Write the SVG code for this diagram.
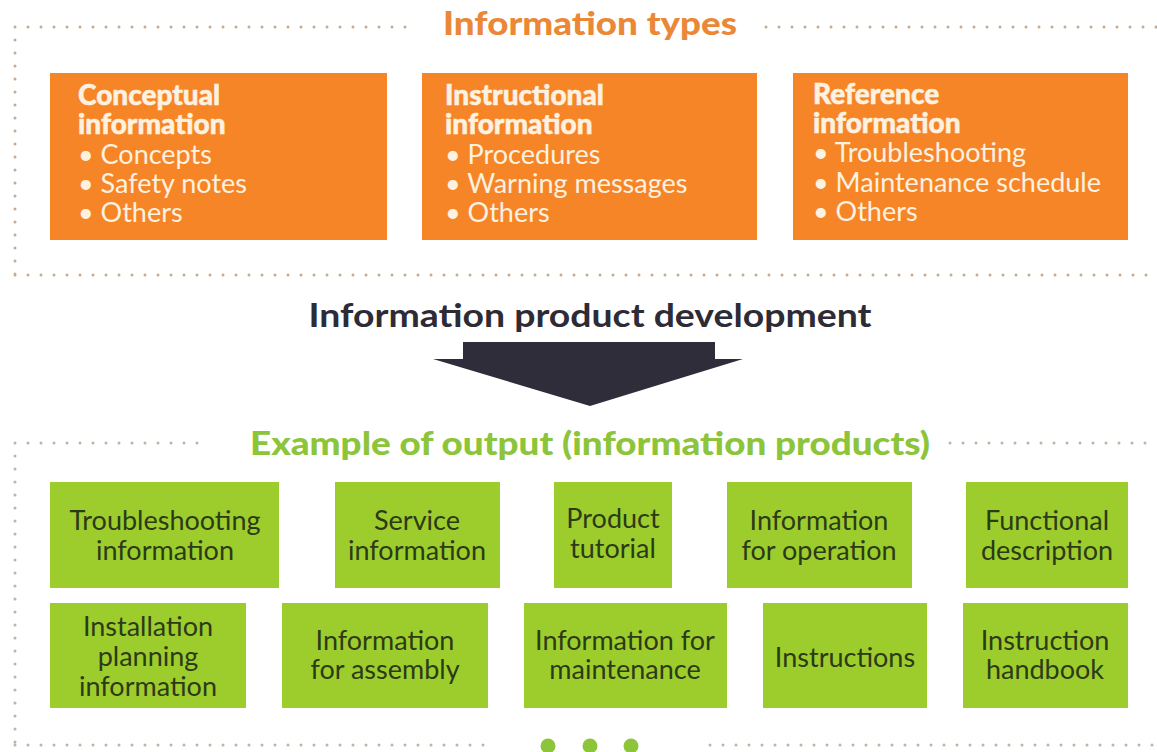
<svg xmlns="http://www.w3.org/2000/svg" width="1157" height="752" viewBox="0 0 1157 752">
<style>
.dotT{fill:none;stroke:#c4ab92;stroke-width:3;stroke-linecap:round;stroke-dasharray:0 13}
.dotB{fill:none;stroke:#b3baa6;stroke-width:3;stroke-linecap:round;stroke-dasharray:0 13}
.ob{fill:#f68527}
.gb{fill:#9ccd2c}
.oh{font-family:Lato,"Liberation Sans",sans-serif;font-weight:900;font-size:28px;fill:#fdf1e0;stroke:#fdf1e0;stroke-width:0.5}
.ot{font-family:Lato,"Liberation Sans",sans-serif;font-size:27px;fill:#fdf1e0}
.gt{font-family:Lato,"Liberation Sans",sans-serif;font-size:27px;fill:#2c3a17;text-anchor:middle}
.title{font-family:Lato,"Liberation Sans",sans-serif;font-weight:900;font-size:32px;text-anchor:middle}
</style>
<rect width="1157" height="752" fill="#ffffff"/>
<g id="frame-top">
<path class="dotT" d="M15 27 H416 M766 27 H1157 M15 27 V275 M15 275 H1157"/>
<text class="title" x="590" y="35" fill="#ea8838" textLength="294" lengthAdjust="spacingAndGlyphs">Information types</text>
</g>
<g id="frame-bottom">
<path class="dotB" d="M15 443 H210 M950 443 H1157 M15 443 V745 M15 745 H495 M710 745 H1157"/>
<text class="title" x="590" y="455" fill="#8cc43a" textLength="680" lengthAdjust="spacingAndGlyphs">Example of output (information products)</text>
<circle cx="548" cy="746" r="7.5" fill="#8cc43a"/>
<circle cx="590" cy="746" r="7.5" fill="#8cc43a"/>
<circle cx="631" cy="746" r="7.5" fill="#8cc43a"/>
</g>
<g id="conceptual">
<rect class="ob" x="50" y="73" width="337" height="167"/>
<text class="oh" x="78" y="105">Conceptual</text>
<text class="oh" x="78" y="134">information</text>
<text class="ot" x="78" y="164">• Concepts</text>
<text class="ot" x="78" y="193">• Safety notes</text>
<text class="ot" x="78" y="222">• Others</text>
</g>
<g id="instructional">
<rect class="ob" x="422" y="73" width="335" height="167"/>
<text class="oh" x="445" y="105">Instructional</text>
<text class="oh" x="445" y="134">information</text>
<text class="ot" x="445" y="164">• Procedures</text>
<text class="ot" x="445" y="193">• Warning messages</text>
<text class="ot" x="445" y="222">• Others</text>
</g>
<g id="reference">
<rect class="ob" x="793" y="73" width="335" height="167"/>
<text class="oh" x="813" y="104">Reference</text>
<text class="oh" x="813" y="133">information</text>
<text class="ot" x="813" y="162">• Troubleshooting</text>
<text class="ot" x="813" y="192">• Maintenance schedule</text>
<text class="ot" x="813" y="221">• Others</text>
</g>
<g id="development">
<text class="title" x="590" y="327" fill="#2d2b35" font-size="35" textLength="563" lengthAdjust="spacingAndGlyphs" style="font-weight:bold">Information product development</text>
</g>
<g id="connectors">
<path d="M463 342 H715 V359 H743 L590 406 L433 359 H463 Z" fill="#2f2d3a"/>
</g>
<g id="troubleshooting-info">
<rect class="gb" x="50" y="482" width="229" height="106"/>
<text class="gt" x="165" y="530">Troubleshooting</text>
<text class="gt" x="165" y="560">information</text>
</g>
<g id="service-info">
<rect class="gb" x="335" y="482" width="165" height="106"/>
<text class="gt" x="417" y="530">Service</text>
<text class="gt" x="417" y="560">information</text>
</g>
<g id="product-tutorial">
<rect class="gb" x="554" y="482" width="118" height="106"/>
<text class="gt" x="613" y="528">Product</text>
<text class="gt" x="613" y="558">tutorial</text>
</g>
<g id="info-operation">
<rect class="gb" x="727" y="482" width="185" height="106"/>
<text class="gt" x="819" y="530">Information</text>
<text class="gt" x="819" y="560">for operation</text>
</g>
<g id="functional-description">
<rect class="gb" x="966" y="482" width="162" height="106"/>
<text class="gt" x="1047" y="530">Functional</text>
<text class="gt" x="1047" y="560">description</text>
</g>
<g id="installation-planning">
<rect class="gb" x="50" y="603" width="196" height="105"/>
<text class="gt" x="148" y="636">Installation</text>
<text class="gt" x="148" y="666">planning</text>
<text class="gt" x="148" y="696">information</text>
</g>
<g id="info-assembly">
<rect class="gb" x="282" y="603" width="206" height="105"/>
<text class="gt" x="385" y="650">Information</text>
<text class="gt" x="385" y="679">for assembly</text>
</g>
<g id="info-maintenance">
<rect class="gb" x="524" y="603" width="203" height="105"/>
<text class="gt" x="625" y="650">Information for</text>
<text class="gt" x="625" y="679">maintenance</text>
</g>
<g id="instructions">
<rect class="gb" x="763" y="603" width="164" height="105"/>
<text class="gt" x="845" y="667">Instructions</text>
</g>
<g id="instruction-handbook">
<rect class="gb" x="963" y="603" width="165" height="105"/>
<text class="gt" x="1045" y="650">Instruction</text>
<text class="gt" x="1045" y="679">handbook</text>
</g>
</svg>
